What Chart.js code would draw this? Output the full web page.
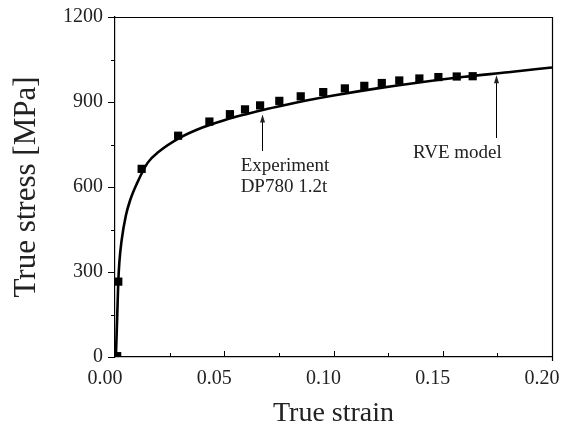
<!DOCTYPE html>
<html>
<head>
<meta charset="utf-8">
<script src="https://cdn.jsdelivr.net/npm/chart.js@4/dist/chart.umd.min.js"></script>
<style>
  html, body { margin: 0; padding: 0; background: #fff; }
  #wrap { width: 564px; height: 430px; }
</style>
</head>
<body>
<div id="wrap"><canvas id="stressChart" width="564" height="430"></canvas></div>
<script>
// experiment points (square markers)
const expStrain = [0.001, 0.0015, 0.0122, 0.0289, 0.0432, 0.0526, 0.0595, 0.0664, 0.0752, 0.0850, 0.0953, 0.1052, 0.1141, 0.1221, 0.1301, 0.1393, 0.1480, 0.1564, 0.1637];
const expStress = [3, 266, 664, 781, 831, 857, 874, 888, 904, 920, 935, 948, 957, 967, 976, 983, 988, 990, 991];

// RVE model curve
const rveStrain = [0.0004, 0.001, 0.0015, 0.002, 0.003, 0.005, 0.007, 0.01, 0.015, 0.02, 0.03, 0.04, 0.05, 0.06, 0.07, 0.08, 0.09, 0.10, 0.12, 0.14, 0.16, 0.18, 0.20];
const rveStress = [0, 140, 265, 335, 410, 500, 555, 612, 686, 724, 775, 810, 836, 857, 876, 893, 909, 923, 948, 970, 989, 1005, 1022];

const xTicks = [0, 0.05, 0.10, 0.15, 0.20];
const xMinor = [0.025, 0.075, 0.125, 0.175];
const yTicks = [0, 300, 600, 900, 1200];
const yMinor = [150, 450, 750, 1050];

const SERIF = "'Liberation Serif', 'Times New Roman', serif";

// arrows + text labels, drawn through the scales
const notes = [
  { lines: ["Experiment", "DP780 1.2t"], x: 0.0575, y: 674, ax: 0.0671, ay0: 727, ay1: 856 },
  { lines: ["RVE model"], x: 0.1364, y: 720, ax: 0.1744, ay0: 773, ay1: 994 }
];

const framePlugin = {
  id: "frame",
  afterDraw(chart) {
    const { ctx, chartArea: a, scales } = chart;
    const xs = scales.x, ys = scales.y;
    ctx.save();
    ctx.strokeStyle = "#000";
    ctx.lineWidth = 1.2;
    // box top + right
    ctx.beginPath();
    ctx.moveTo(a.left, a.top + 0.5);
    ctx.lineTo(a.right + 0.5, a.top + 0.5);
    ctx.lineTo(a.right + 0.5, a.bottom + 4);
    ctx.stroke();
    // x ticks inward
    ctx.lineWidth = 1;
    xTicks.forEach(v => {
      const p = Math.round(xs.getPixelForValue(v)) + 0.5;
      ctx.beginPath(); ctx.moveTo(p, a.bottom); ctx.lineTo(p, a.bottom - 6); ctx.stroke();
    });
    xMinor.forEach(v => {
      const p = Math.round(xs.getPixelForValue(v)) + 0.5;
      ctx.beginPath(); ctx.moveTo(p, a.bottom); ctx.lineTo(p, a.bottom - 4); ctx.stroke();
    });
    // y ticks outward
    yTicks.forEach(v => {
      const p = Math.round(ys.getPixelForValue(v)) + 0.5;
      ctx.beginPath(); ctx.moveTo(a.left, p); ctx.lineTo(a.left - 7, p); ctx.stroke();
    });
    yMinor.forEach(v => {
      const p = Math.round(ys.getPixelForValue(v)) + 0.5;
      ctx.beginPath(); ctx.moveTo(a.left, p); ctx.lineTo(a.left - 4, p); ctx.stroke();
    });
    // annotations
    ctx.fillStyle = "#222";
    ctx.font = "19px " + SERIF;
    ctx.textBaseline = "middle";
    notes.forEach(n => {
      const tx = xs.getPixelForValue(n.x);
      const ty = ys.getPixelForValue(n.y);
      n.lines.forEach((t, i) => ctx.fillText(t, tx, ty + i * 21));
      const axp = Math.round(xs.getPixelForValue(n.ax)) + 0.5;
      const y0 = ys.getPixelForValue(n.ay0), y1 = ys.getPixelForValue(n.ay1);
      ctx.beginPath(); ctx.moveTo(axp, y0); ctx.lineTo(axp, y1 + 4); ctx.stroke();
      ctx.beginPath();
      ctx.moveTo(axp, y1); ctx.lineTo(axp - 2.5, y1 + 8); ctx.lineTo(axp + 2.5, y1 + 8);
      ctx.closePath(); ctx.fill();
    });
    ctx.restore();
  }
};

new Chart(document.getElementById("stressChart"), {
  type: "scatter",
  data: {
    datasets: [
      {
        label: "RVE model",
        data: rveStrain.map((x, i) => ({ x, y: rveStress[i] })),
        showLine: true,
        borderColor: "#000",
        borderWidth: 2.6,
        pointRadius: 0,
        cubicInterpolationMode: "monotone",
        order: 2
      },
      {
        label: "Experiment DP780 1.2t",
        data: expStrain.map((x, i) => ({ x, y: expStress[i] })),
        pointStyle: "rect",
        pointRadius: 5.8,
        backgroundColor: "#000",
        borderColor: "#000",
        borderWidth: 0,
        order: 1
      }
    ]
  },
  options: {
    responsive: false,
    animation: false,
    layout: { padding: { left: 0, right: 12, top: 17, bottom: 0 } },
    plugins: { legend: { display: false }, tooltip: { enabled: false } },
    scales: {
      x: {
        type: "linear",
        min: 0, max: 0.2,
        afterBuildTicks: s => { s.ticks = xTicks.map(v => ({ value: v })); },
        afterFit: s => { s.height = 73; s.paddingRight = 0; s.paddingLeft = 0; },
        grid: { display: false },
        border: { display: true, color: "#000", width: 1.2 },
        ticks: {
          color: "#222",
          font: { family: SERIF, size: 20 },
          padding: 2,
          labelOffset: -10,
          maxRotation: 0,
          callback: v => v.toFixed(2)
        },
        title: {
          display: true,
          text: "True strain",
          color: "#222",
          font: { family: SERIF, size: 28 },
          padding: { top: 6, bottom: 0 }
        }
      },
      y: {
        min: 0, max: 1200,
        afterBuildTicks: s => { s.ticks = yTicks.map(v => ({ value: v })); },
        afterFit: s => { s.width = 115; },
        grid: { display: false },
        border: { display: true, color: "#000", width: 1.2 },
        ticks: {
          color: "#222",
          font: { family: SERIF, size: 20 },
          padding: 4,
          callback: v => String(v)
        },
        title: {
          display: true,
          text: "True stress [MPa]",
          color: "#222",
          font: { family: SERIF, size: 31 },
          padding: { top: 8, bottom: 4 }
        }
      }
    }
  },
  plugins: [framePlugin]
});
</script>
</body>
</html>
